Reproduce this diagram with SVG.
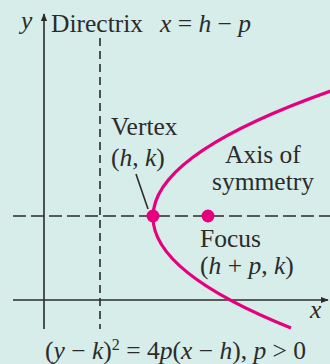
<svg xmlns="http://www.w3.org/2000/svg" width="330" height="364" viewBox="0 0 330 364">
<style>
text{font-family:"Liberation Serif","Times New Roman",serif;fill:#2b2b2b;font-size:25.5px}
.i{font-style:italic}
.ax{stroke:#2b2b2b;stroke-width:1.6;fill:none}
.dv{stroke:#2b2b2b;stroke-width:1.6;fill:none;stroke-dasharray:8 5}
.dh{stroke:#2b2b2b;stroke-width:1.6;fill:none;stroke-dasharray:13 5}
.curve{stroke:#e6007e;stroke-width:3.2;fill:none}
.dot{fill:#e6007e}
</style>
<defs>
<marker id="arr" viewBox="0 0 10 10" refX="9" refY="5" markerWidth="8" markerHeight="8" markerUnits="userSpaceOnUse" orient="auto">
<path d="M0,1 L10,5 L0,9 z" fill="#2b2b2b"/>
</marker>
</defs>
<rect width="330" height="364" fill="#d6ede9"/>
<g id="connectors">
<line class="ax" x1="44" y1="329" x2="44" y2="14" marker-end="url(#arr)"/>
<line class="ax" x1="13" y1="300" x2="328" y2="300" marker-end="url(#arr)"/>
<line class="dv" x1="100" y1="38" x2="100" y2="329"/>
<line class="dh" x1="13" y1="216" x2="330" y2="216"/>
<line class="ax" x1="136" y1="174" x2="148" y2="209" stroke-width="1.2"/>
</g>
<g id="parabola">
<path class="curve" d="M333.6,90 Q-4.9,209 291,328"/>
</g>
<g id="vertex">
<circle class="dot" cx="153" cy="216" r="6.5"/>
<text x="111" y="135">Vertex</text>
<text x="111" y="166">(<tspan class="i">h</tspan>, <tspan class="i">k</tspan>)</text>
</g>
<g id="focus">
<circle class="dot" cx="208" cy="216" r="6.5"/>
<text x="200" y="247">Focus</text>
<text x="200" y="274">(<tspan class="i">h</tspan> + <tspan class="i">p</tspan>, <tspan class="i">k</tspan>)</text>
</g>
<g id="axis-label">
<text x="225" y="163">Axis of</text>
<text x="212" y="190">symmetry</text>
</g>
<g id="directrix-label">
<text x="51" y="32">Directrix</text>
<text x="160" y="32"><tspan class="i">x</tspan> = <tspan class="i">h</tspan> − <tspan class="i">p</tspan></text>
</g>
<g id="axes-labels">
<text class="i" x="21" y="29">y</text>
<text class="i" x="310" y="318">x</text>
</g>
<g id="equation">
<text x="45" y="359">(<tspan class="i">y</tspan> − <tspan class="i">k</tspan>)<tspan font-size="16" dy="-9">2</tspan><tspan dy="9"> = 4</tspan><tspan class="i">p</tspan>(<tspan class="i">x</tspan> − <tspan class="i">h</tspan>), <tspan class="i">p</tspan> &gt; 0</text>
</g>
</svg>
